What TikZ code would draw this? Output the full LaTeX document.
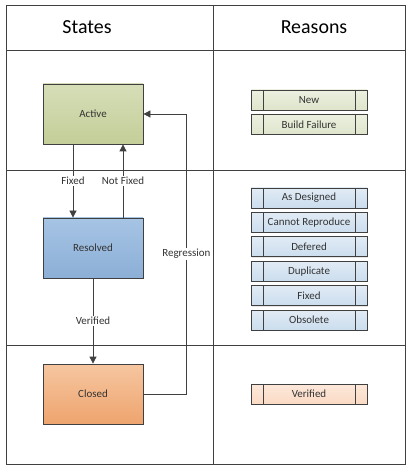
\documentclass[tikz,border=0pt]{standalone}
\usepackage{fontspec}
\setmainfont{Carlito}
\usetikzlibrary{arrows.meta,positioning,shadows}

\definecolor{lineGray}{HTML}{404040}
\definecolor{textGray}{HTML}{333333}
\definecolor{activeTop}{RGB}{214,222,184}
\definecolor{activeBot}{RGB}{195,206,152}
\definecolor{resolvedTop}{RGB}{166,196,228}
\definecolor{resolvedBot}{RGB}{140,175,215}
\definecolor{closedTop}{RGB}{246,198,160}
\definecolor{closedBot}{RGB}{238,164,110}
\definecolor{greenTop}{RGB}{236,240,224}
\definecolor{greenBot}{RGB}{222,229,203}
\definecolor{blueTop}{RGB}{225,235,245}
\definecolor{blueBot}{RGB}{203,221,238}
\definecolor{orangeTop}{RGB}{253,232,218}
\definecolor{orangeBot}{RGB}{250,218,196}

\begin{document}
\begin{tikzpicture}[x=1bp,y=-1bp,->,>={Triangle[length=7bp,width=7bp]},node distance=24.4bp,
    state node/.style={-,draw=lineGray,line width=0.8bp,minimum width=100bp,minimum height=60bp,
        text=textGray,font=\fontsize{11}{13}\selectfont,
        drop shadow={shadow xshift=1.2bp,shadow yshift=-1.2bp,opacity=0.25}},
    reason node/.style={-,draw=lineGray,line width=0.8bp,minimum width=116bp,minimum height=20bp,
        inner sep=0pt,text=textGray,font=\fontsize{11}{13}\selectfont,
        drop shadow={shadow xshift=1bp,shadow yshift=-1bp,opacity=0.2},
        path picture={\draw[lineGray,line width=0.8bp]
            ([xshift=12bp]path picture bounding box.north west) -- ([xshift=12bp]path picture bounding box.south west)
            ([xshift=-12bp]path picture bounding box.north east) -- ([xshift=-12bp]path picture bounding box.south east);}},
    green reason/.style={reason node,top color=greenTop,bottom color=greenBot},
    blue reason/.style={reason node,top color=blueTop,bottom color=blueBot},
    orange reason/.style={reason node,top color=orangeTop,bottom color=orangeBot},
    head node/.style={font=\fontsize{20}{24}\selectfont},
    lbl/.style={fill=white,inner sep=1.5bp,text=textGray,font=\fontsize{11}{13}\selectfont}]
    \useasboundingbox (0,0) rectangle (411,472);

    % table
    \draw[-,lineGray,line width=0.9bp] (6,5) rectangle (405,464);
    \draw[-,lineGray,line width=0.9bp] (6,50) -- (405,50)
        (6,170) -- (405,170)
        (6,345) -- (405,345)
        (213,5) -- (213,464);
    \node[head node] (states) at (87,27) {States};
    \node[head node] (reasons) at (314,27) {Reasons};

    % states
    \node[state node,top color=activeTop,bottom color=activeBot] (active) at (93,114) {Active};
    \node[state node,top color=resolvedTop,bottom color=resolvedBot] (resolved) at (93,248) {Resolved};
    \node[state node,top color=closedTop,bottom color=closedBot] (closed) at (93,394) {Closed};

    % reasons
    \node[green reason] (new) at (309,100) {New};
    \node[green reason] (build) [below of = new] {Build Failure};

    \node[blue reason] (designed) at (309,198) {As Designed};
    \node[blue reason] (reproduce) [below of = designed] {Cannot Reproduce};
    \node[blue reason] (defered) [below of = reproduce] {Defered};
    \node[blue reason] (duplicate) [below of = defered] {Duplicate};
    \node[blue reason] (fixed) [below of = duplicate] {Fixed};
    \node[blue reason] (obsolete) [below of = fixed] {Obsolete};

    \node[orange reason] (verified) at (309,394) {Verified};

    % transitions
    \path[every edge/.append style={draw=lineGray,line width=0.8bp}]
        ([xshift=-20bp]active.south) edge node[lbl,pos=0.5]{Fixed} ([xshift=-20bp]resolved.north)
        ([xshift=30bp]resolved.north) edge node[lbl,pos=0.5]{Not Fixed} ([xshift=30bp]active.south)
        (resolved.south) edge node[lbl,pos=0.5]{Verified} (closed.north)
    ;
    \draw[lineGray,line width=0.8bp] (closed.east) -- ++(43,0) |- node[lbl,pos=0.25]{Regression} (active.east);
\end{tikzpicture}
\end{document}
